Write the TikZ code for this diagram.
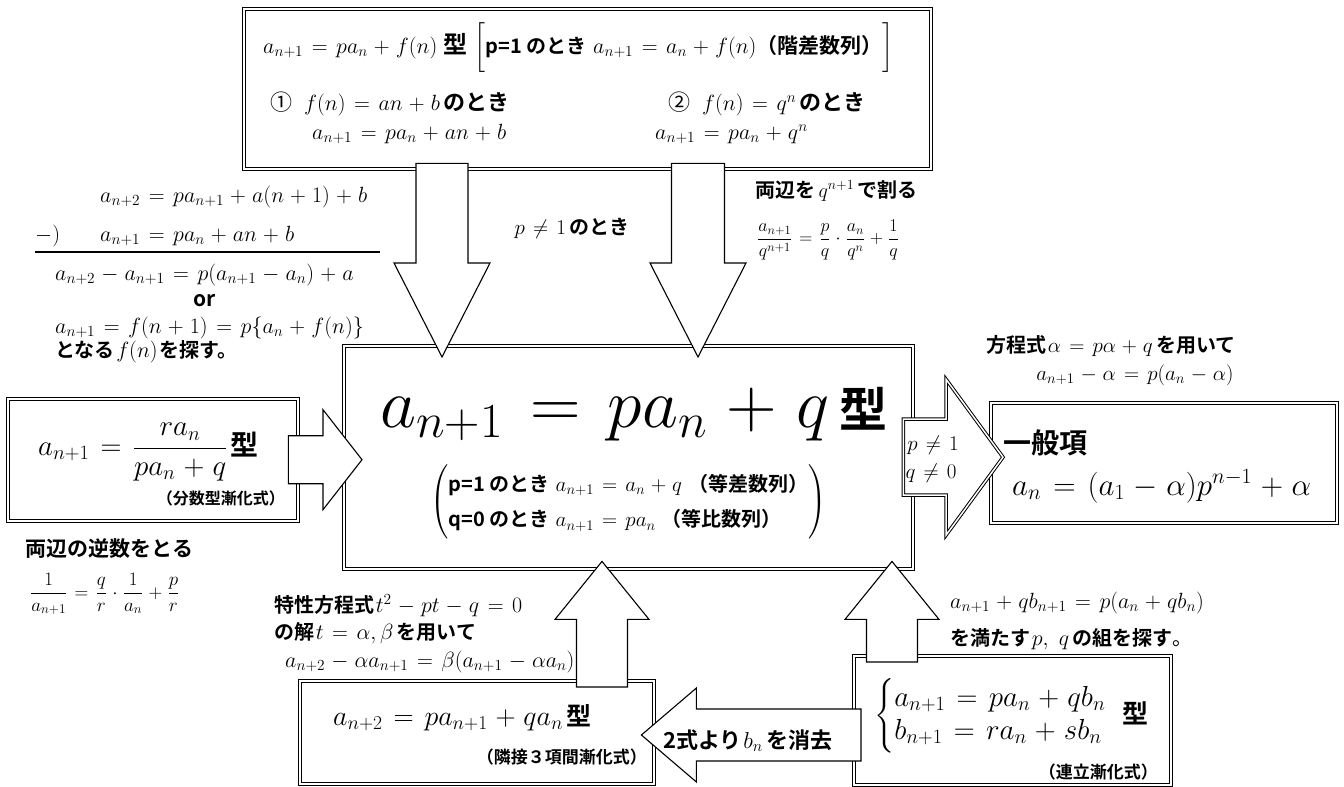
\RequirePackage{fix-cm}
\documentclass[tikz,border=0pt]{standalone}
\usepackage{amsmath}
\usepackage{fontspec}
\newfontfamily\jp{Noto Sans CJK JP}[BoldFont={* Bold}]
\usetikzlibrary{calc}
\newcommand{\fsz}[1]{\fontsize{#1}{#1}\selectfont}
\newcommand{\jb}[1]{{\jp\bfseries #1}}
\medmuskip=5mu plus 2mu minus 4mu
\thickmuskip=7mu plus 5mu
% #1 extra style, #2 tail, #3 tip, #4 shaft half width, #5 head half width, #6 head length
\newcommand{\blockarrow}[6][]{%
  \coordinate (ba) at ($#3!#6!#2$);
  \draw[barrow,#1] ($#2!#4!90:#3$) -- ($(ba)!#4!90:#3$) -- ($(ba)!#5!90:#3$) -- #3
    -- ($(ba)!#5!-90:#3$) -- ($(ba)!#4!-90:#3$) -- ($#2!#4!-90:#3$) -- cycle;}

\begin{document}
\begin{tikzpicture}[x=1pt,y=-1pt,
    dbox/.style={draw,double,double distance=1.6pt,line width=1.4pt,fill=white,inner sep=0pt,anchor=north west},
    barrow/.style={draw,fill=white,line width=1.1pt,line join=miter},
    lbl/.style={inner sep=0pt,anchor=base west},
  ]
  \useasboundingbox (0,0) rectangle (1344,787);

  % boxes
  \node[dbox,minimum width=687pt,minimum height=160pt] (topbox) at (243,8) {};
  \node[dbox,minimum width=569pt,minimum height=223pt] (ctrbox) at (343,345) {};
  \node[dbox,minimum width=290pt,minimum height=122pt] (lbox) at (7,398) {};
  \node[dbox,minimum width=346pt,minimum height=120pt] (gbox) at (990,402) {};
  \node[dbox,minimum width=354pt,minimum height=103pt] (blbox) at (299,680) {};
  \node[dbox,minimum width=317pt,minimum height=129pt] (brbox) at (853,655) {};

  % block arrows
  \coordinate (xl) at (442,0);
  \coordinate (xr) at (698,0);
  \coordinate (xu) at (602,0);
  \coordinate (xv) at (892,0);
  \coordinate (ye) at (0,735);
  \coordinate (dl1) at ($(topbox.south -| xl)+(0,-6)$);
  \coordinate (dl2) at ($(ctrbox.north -| xl)+(0,12)$);
  \coordinate (dr1) at ($(topbox.south -| xr)+(0,-6)$);
  \coordinate (dr2) at ($(ctrbox.north -| xr)+(0,12)$);
  \coordinate (ml1) at ($(lbox.east)+(-10,0)$);
  \coordinate (ml2) at ($(ctrbox.west |- lbox.east)+(19,0)$);
  \coordinate (mr1) at ($(ctrbox.east)+(-10,0)$);
  \coordinate (mr2) at ($(gbox.west |- ctrbox.east)+(13,0)$);
  \coordinate (ul1) at ($(blbox.north -| xu)+(0,7)$);
  \coordinate (ul2) at ($(ctrbox.south -| xu)+(0,-8)$);
  \coordinate (ur1) at ($(brbox.north -| xv)+(0,7)$);
  \coordinate (ur2) at ($(ctrbox.south -| xv)+(0,-8)$);
  \coordinate (el1) at ($(brbox.west |- ye)+(8,0)$);
  \coordinate (el2) at ($(blbox.east |- ye)+(-13,0)$);
  \blockarrow{(dl1)}{(dl2)}{26pt}{48pt}{94pt}
  \blockarrow{(dr1)}{(dr2)}{26.5pt}{48pt}{94pt}
  \blockarrow{(ml1)}{(ml2)}{24pt}{50pt}{39pt}
  \blockarrow[double,double distance=1.5pt,line width=1pt]{(mr1)}{(mr2)}{38pt}{78pt}{57pt}
  \blockarrow{(ul1)}{(ul2)}{25.5pt}{47pt}{58pt}
  \blockarrow{(ur1)}{(ur2)}{25.5pt}{47pt}{58pt}
  \blockarrow{(el1)}{(el2)}{26pt}{47pt}{55pt}

  % top box
  \node[lbl] (tl1) at (263,53) {\fsz{22}$a_{n+1}=pa_n+f(n)$\ \jb{\fsz{24}型}\ $\bigg[$\jb{\fsz{20}p=1 のとき}\ {\fsz{22}$a_{n+1}=a_n+f(n)$}\jb{\fsz{21}（階差数列）}$\bigg]$};
  \node[lbl] (tl2) at (270,110) {{\jp\fsz{22}①}\hspace{12pt}{\fsz{22}$f(n)=an+b$}\ \jb{\fsz{22}のとき}};
  \node[lbl] (tl3) at (312,139) {\fsz{22}$a_{n+1}=pa_n+an+b$};
  \node[lbl] (tr2) at (668,110) {{\jp\fsz{22}②}\hspace{12pt}{\fsz{22}$f(n)=q^n$}\ \jb{\fsz{22}のとき}};
  \node[lbl] (tr3) at (655,139) {\fsz{22}$a_{n+1}=pa_n+q^n$};

  % left stack
  \node[lbl] (ls1) at (100,202) {\fsz{22}$a_{n+2}=pa_{n+1}+a(n+1)+b$};
  \node[lbl] (ls0) at (35,241) {\fsz{22}$-)$};
  \node[lbl] (ls2) at (100,241) {\fsz{22}$a_{n+1}=pa_n+an+b$};
  \coordinate (rl) at (35,252);
  \coordinate (rr) at (380,252);
  \draw[line width=1.2pt] (rl) -- (rr);
  \node[lbl] (ls3) at (55,280) {\fsz{22}$a_{n+2}-a_{n+1}=p(a_{n+1}-a_n)+a$};
  \node[inner sep=0pt] (ls4) at (205,301) {\jb{\fsz{21}or}};
  \node[lbl] (ls5) at (55,333) {\fsz{22}$a_{n+1}=f(n+1)=p\{a_n+f(n)\}$};
  \node[lbl] (ls6) at (55,357) {\jb{\fsz{20}となる}\,{\fsz{22}$f(n)$}\,\jb{\fsz{20}を探す。}};

  \node[inner sep=0pt] (pne) at (572,228) {{\fsz{21}$p\neq1$}\ \jb{\fsz{20}のとき}};
  \node[lbl] (dv1) at (755,197) {\jb{\fsz{20}両辺を}\ {\fsz{20}$q^{n+1}$}\ \jb{\fsz{20}で割る}};
  \node[inner sep=0pt,anchor=west] (dv2) at (757,240) {\fsz{18}$\dfrac{a_{n+1}}{q^{n+1}}=\dfrac{p}{q}\cdot\dfrac{a_n}{q^n}+\dfrac{1}{q}$};

  % centre box
  \node[lbl] (c1) at (380,427) {{\fsz{70}$a_{n+1}=pa_n+q$}\hspace{10pt}\jb{\fsz{48}型}};
  \node[inner sep=0pt,anchor=west] (c2) at (430,502) {\fsz{21}\def\arraystretch{1.7}$\left(\begin{array}{@{}l@{}}
    \text{\jb{\fsz{20}p=1 のとき}}\ a_{n+1}=a_n+q\ \text{\jb{\fsz{20}（等差数列）}}\\
    \text{\jb{\fsz{20}q=0 のとき}}\ a_{n+1}=pa_n\ \text{\jb{\fsz{20}（等比数列）}}
    \end{array}\right)$};

  % left box
  \node[inner sep=0pt,anchor=west] (lb1) at (38,452) {{\fsz{29}$a_{n+1}=\dfrac{ra_n}{pa_n+q}$}\ \jb{\fsz{28}型}};
  \node[inner sep=0pt,anchor=east] (lb2) at (285,498) {\jb{\fsz{16}（分数型漸化式）}};
  \node[lbl] (rc1) at (25,556) {\jb{\fsz{21}両辺の逆数をとる}};
  \node[inner sep=0pt,anchor=west] (rc2) at (30,594) {\fsz{19}$\dfrac{1}{a_{n+1}}=\dfrac{q}{r}\cdot\dfrac{1}{a_n}+\dfrac{p}{r}$};

  % right side
  \node[inner sep=0pt] (pq1) at (933,445) {\fsz{21}$p\neq1$};
  \node[inner sep=0pt] (pq2) at (931,473) {\fsz{21}$q\neq0$};
  \node[lbl] (al1) at (986,352) {\jb{\fsz{20}方程式}\,{\fsz{21}$\alpha=p\alpha+q$}\ \jb{\fsz{20}を用いて}};
  \node[inner sep=0pt] (al2) at (1135,375) {\fsz{21}$a_{n+1}-\alpha=p(a_n-\alpha)$};
  \node[lbl] (g1) at (1003,453) {\jb{\fsz{28}一般項}};
  \node[lbl] (g2) at (1012,495) {\fsz{31}$a_n=(a_1-\alpha)p^{n-1}+\alpha$};

  % bottom left
  \node[lbl] (ch1) at (274,612) {\jb{\fsz{20}特性方程式}\,{\fsz{22}$t^2-pt-q=0$}};
  \node[lbl] (ch2) at (274,639) {\jb{\fsz{20}の解}\,{\fsz{22}$t=\alpha,\beta$}\ \jb{\fsz{20}を用いて}};
  \node[lbl] (ch3) at (285,667) {\fsz{22}$a_{n+2}-\alpha a_{n+1}=\beta(a_{n+1}-\alpha a_n)$};
  \node[lbl] (bl1) at (333,725) {{\fsz{28}$a_{n+2}=pa_{n+1}+qa_n$}\ \jb{\fsz{25}型}};
  \node[inner sep=0pt,anchor=east] (bl2) at (647,757) {\jb{\fsz{17}（隣接３項間漸化式）}};
  \node[lbl] (el) at (663,748) {\jb{\fsz{22}2式より}\,{\fsz{23}$b_n$}\ \jb{\fsz{22}を消去}};

  % bottom right
  \node[lbl] (sr1) at (950,608) {\fsz{22}$a_{n+1}+qb_{n+1}=p(a_n+qb_n)$};
  \node[lbl] (sr2) at (950,645) {\jb{\fsz{20}を満たす}\,{\fsz{22}$p,\ q$}\ \jb{\fsz{20}の組を探す}{\jp\fsz{20}。}};
  \node[inner sep=0pt,anchor=west] (br1) at (874,716) {\fsz{29}\def\arraystretch{1.15}$\left\{\begin{array}{@{}l@{}}a_{n+1}=pa_n+qb_n\\ b_{n+1}=ra_n+sb_n\end{array}\right.$};
  \node[inner sep=0pt,anchor=west] (br2) at (1122,713) {\jb{\fsz{26}型}};
  \node[inner sep=0pt,anchor=east] (br3) at (1158,772) {\jb{\fsz{17}（連立漸化式）}};
\end{tikzpicture}
\end{document}
